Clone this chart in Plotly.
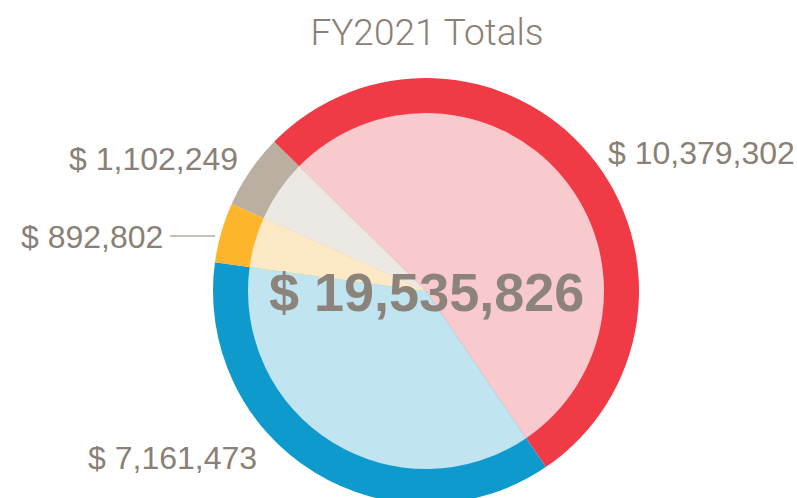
import plotly.graph_objects as go

# ---- data ----
categories = ["Category A", "Category B", "Category C", "Category D"]
values = [10379302, 7161473, 892802, 1102249]
outer_colors = ["#F03A46", "#0E9ACC", "#FDB62B", "#BAAFA0"]
inner_colors = ["#F8CACD", "#C0E4F0", "#FEE9C6", "#ECE9E4"]
title_text = "FY2021 Totals"

W, H = 797, 520
TXT = "#8A8075"
FONT = "Liberation Sans, Arial, sans-serif"
TFONT = "Roboto, Liberation Sans, sans-serif"


def px(x, y):
    return x / W, 1 - y / H


cx, cy, R, r = 426, 291, 213, 178


def dom(rad):
    x0, y1 = px(cx - rad, cy - rad)
    x1, y0 = px(cx + rad, cy + rad)
    return dict(x=[x0, x1], y=[y0, y1])


fig = go.Figure()
fig.add_trace(go.Pie(labels=categories, values=values, sort=False, direction="clockwise",
                     rotation=-45.5, marker=dict(colors=outer_colors, line=dict(width=0)),
                     textinfo="none", domain=dom(R), showlegend=False))
fig.add_trace(go.Pie(labels=categories, values=values, sort=False, direction="clockwise",
                     rotation=-45.5, marker=dict(colors=inner_colors, line=dict(width=0)),
                     textinfo="none", domain=dom(r), showlegend=False))

fmt = lambda v: f"$ {v:,}"
# label placements (pixel anchors)
label_pos = [(701, 153, "center"), (172, 458, "center"), (165, 237, "right"), (240, 159, "right")]
for v, (lx, ly, anc) in zip(values, label_pos):
    ax, ay = px(lx, ly)
    fig.add_annotation(x=ax, y=ay, xref="paper", yref="paper", text=fmt(v), showarrow=False,
                       xanchor=anc, yanchor="middle", font=dict(family=FONT, size=32, color=TXT))

# center total
tx, ty = px(cx, cy + 1)
fig.add_annotation(x=tx, y=ty, xref="paper", yref="paper", text=fmt(sum(values)), showarrow=False,
                   xanchor="center", yanchor="middle",
                   font=dict(family=FONT, size=54, color="#8C837B", weight="bold"))

# leader line for the small slice label
l0 = px(170, 236)
l1 = px(215, 236)
fig.add_shape(type="line", xref="paper", yref="paper", x0=l0[0], y0=l0[1], x1=l1[0], y1=l1[1],
              line=dict(color=TXT, width=1))

t = px(427, 32)
fig.update_layout(
    width=W, height=H, margin=dict(l=0, r=0, t=0, b=0),
    paper_bgcolor="white", plot_bgcolor="white",
    title=dict(text=title_text, x=t[0], y=t[1], xanchor="center", yanchor="middle",
               font=dict(family=TFONT, size=37, color=TXT, weight=300)),
)

fig.write_html("out.html", config={"displayModeBar": False},
               post_script="document.body.style.margin='0';document.body.style.overflow='hidden';document.documentElement.style.overflow='hidden';")
